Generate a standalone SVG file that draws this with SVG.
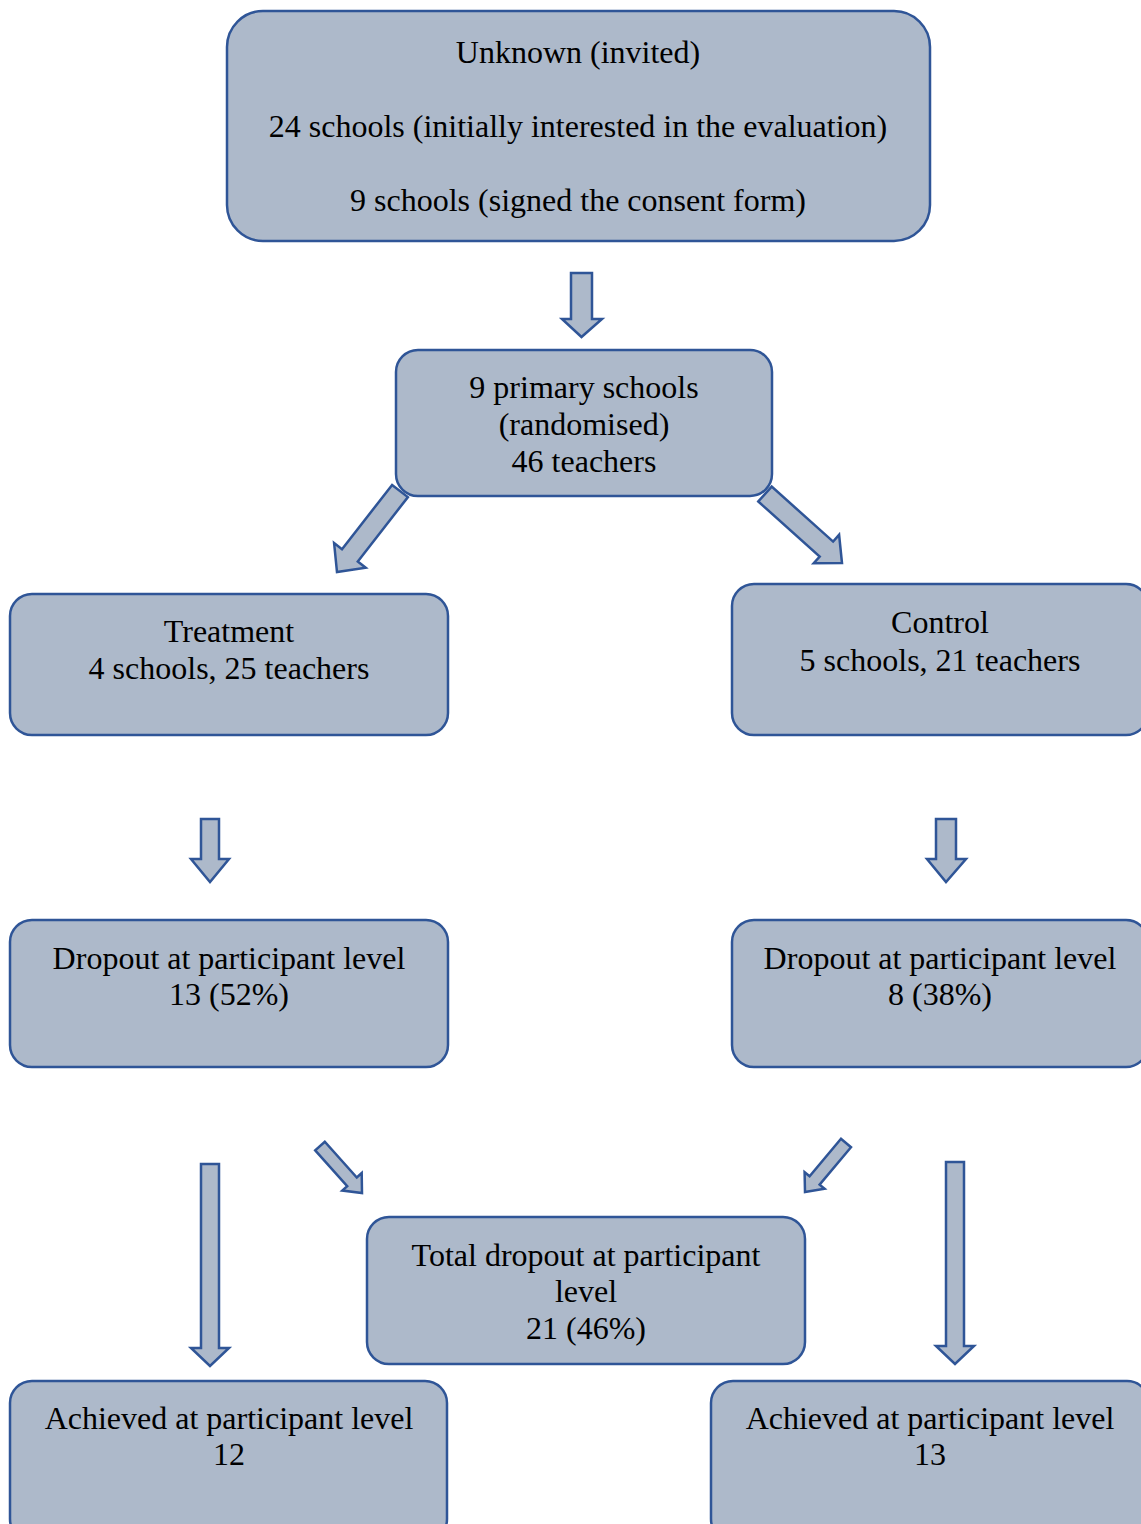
<svg xmlns="http://www.w3.org/2000/svg" width="1141" height="1524" viewBox="0 0 1141 1524">
<style>
.box{fill:#ADB9CA;stroke:#2F5597;stroke-width:2.5}
.arr{fill:#ADB9CA;stroke:#2F5597;stroke-width:2.5;stroke-linejoin:miter}
text{font-family:"Liberation Serif","Times New Roman",serif;font-size:32px;fill:#000;text-anchor:middle}
</style>
<rect width="1141" height="1524" fill="#fff"/>
<g id="connectors">
<polygon class="arr" points="571,273 592,273 592,319 602,319 581.5,337 562,319 571,319"/>
<polygon class="arr" points="392.1,484.9 342.0,549.3 334.1,543.1 337,572 365.7,567.7 357.8,561.5 407.9,497.1"/>
<polygon class="arr" points="758.3,501.5 819.7,556.5 813.7,563.2 842,563 839.1,534.8 833.1,541.6 771.7,486.6"/>
<polygon class="arr" points="201,819 219,819 219,859 229,859 210,882 191,859 201,859"/>
<polygon class="arr" points="936,819 956,819 956,859 966,859 946,882 927,859 936,859"/>
<polygon class="arr" points="315.2,1150.3 347.2,1186.1 342.3,1190.5 362,1193 361.7,1173.1 356.8,1177.5 324.8,1141.7"/>
<polygon class="arr" points="841.0,1138.8 809.6,1176.3 804.6,1172.2 805,1192 824.6,1188.8 819.6,1184.7 851.0,1147.2"/>
<polygon class="arr" points="201,1164 219,1164 219,1348 229,1348 210,1366 191,1348 201,1348"/>
<polygon class="arr" points="946,1162 964,1162 964,1346 974,1346 955,1364 936,1346 946,1346"/>
</g>
<g id="n-invited">
<rect class="box" x="227" y="11" width="703" height="230" rx="36"/>
<text x="578" y="63">Unknown (invited)</text>
<text x="578" y="137">24 schools (initially interested in the evaluation)</text>
<text x="578" y="211">9 schools (signed the consent form)</text>
</g>
<g id="n-randomised">
<rect class="box" x="396" y="350" width="376" height="146" rx="22"/>
<text x="584" y="398">9 primary schools</text>
<text x="584" y="435">(randomised)</text>
<text x="584" y="472">46 teachers</text>
</g>
<g id="n-treatment">
<rect class="box" x="10" y="594" width="438" height="141" rx="22"/>
<text x="229" y="642">Treatment</text>
<text x="229" y="679">4 schools, 25 teachers</text>
</g>
<g id="n-control">
<rect class="box" x="732" y="584" width="416" height="151" rx="22"/>
<text x="940" y="633">Control</text>
<text x="940" y="671">5 schools, 21 teachers</text>
</g>
<g id="n-dropout-t">
<rect class="box" x="10" y="920" width="438" height="147" rx="22"/>
<text x="229" y="969">Dropout at participant level</text>
<text x="229" y="1005">13 (52%)</text>
</g>
<g id="n-dropout-c">
<rect class="box" x="732" y="920" width="416" height="147" rx="22"/>
<text x="940" y="969">Dropout at participant level</text>
<text x="940" y="1005">8 (38%)</text>
</g>
<g id="n-total">
<rect class="box" x="367" y="1217" width="438" height="147" rx="22"/>
<text x="586" y="1266">Total dropout at participant</text>
<text x="586" y="1302">level</text>
<text x="586" y="1339">21 (46%)</text>
</g>
<g id="n-achieved-t">
<rect class="box" x="10" y="1381" width="437" height="160" rx="22"/>
<text x="229" y="1429">Achieved at participant level</text>
<text x="229" y="1465">12</text>
</g>
<g id="n-achieved-c">
<rect class="box" x="711" y="1381" width="438" height="160" rx="22"/>
<text x="930" y="1429">Achieved at participant level</text>
<text x="930" y="1465">13</text>
</g>
</svg>
